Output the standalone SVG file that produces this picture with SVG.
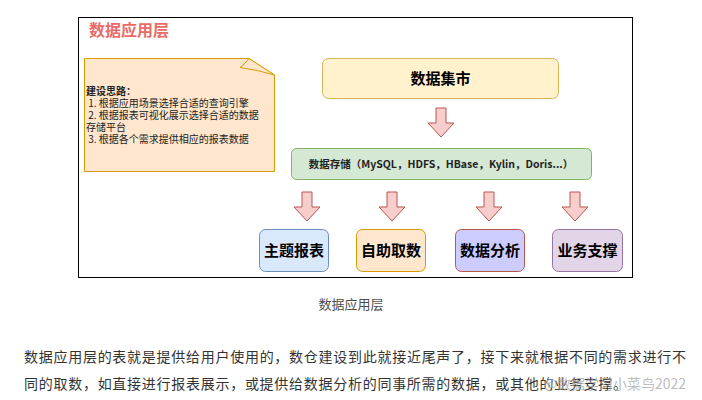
<svg xmlns="http://www.w3.org/2000/svg" width="702" height="400" viewBox="0 0 702 400">
<style>
.cjk{font-family:"Noto Sans CJK SC","Liberation Sans",sans-serif}
.lbl{font-size:15px;font-weight:bold;fill:#000;text-anchor:middle}
.note{font-size:10px;fill:#222}
.arr{fill:#F8CECC;stroke:#B85450;stroke-width:1}
</style>
<defs>
<path id="barrow" d="M-5,0 H5 V15 H13 L0,29 L-13,15 H-5 Z"/>
</defs>
<rect width="702" height="400" fill="#fff"/>
<g id="frame">
<rect x="78.5" y="17.5" width="554" height="260" fill="#fff" stroke="#000" stroke-width="1"/>
<text x="89" y="36" class="cjk" font-size="16" font-weight="bold" fill="#EA6B66">数据应用层</text>
</g>
<g id="note">
<path d="M84.5,58.5 H249 L274.5,75 V171.5 H84.5 Z" fill="#FFE6CC" stroke="#D79B00"/>
<path d="M249,58.5 Q245,64 240,67.5 Q258,70 274.5,75 Z" fill="#FFE6CC" stroke="#D79B00" stroke-linejoin="round"/>
<text class="cjk note" x="86" y="95" font-weight="bold">建设思路：</text>
<text class="cjk note" x="86" y="107" xml:space="preserve"> 1. 根据应用场景选择合适的查询引擎</text>
<text class="cjk note" x="86" y="119" xml:space="preserve"> 2. 根据报表可视化展示选择合适的数据</text>
<text class="cjk note" x="86" y="131">存储平台</text>
<text class="cjk note" x="86" y="143" xml:space="preserve"> 3. 根据各个需求提供相应的报表数据</text>
</g>
<g id="mart">
<rect x="322.5" y="58.5" width="236" height="40" rx="6" fill="#FFF2CC" stroke="#D6B656"/>
<text x="440.5" y="84" class="cjk lbl">数据集市</text>
</g>
<g id="storage">
<rect x="291.5" y="148.5" width="300" height="31" rx="5" fill="#D5E8D4" stroke="#82B366"/>
<text x="441" y="168" class="cjk" font-size="10.5" font-weight="bold" fill="#222" text-anchor="middle">数据存储（MySQL，HDFS，HBase，Kylin，Doris...）</text>
</g>
<g id="topic">
<rect x="259.5" y="229.5" width="69" height="42" rx="6" fill="#DAE8FC" stroke="#6C8EBF"/>
<text x="294" y="256" class="cjk lbl">主题报表</text>
</g>
<g id="self">
<rect x="356.5" y="229.5" width="69" height="42" rx="6" fill="#FFE6CC" stroke="#D79B00"/>
<text x="391" y="256" class="cjk lbl">自助取数</text>
</g>
<g id="analysis">
<rect x="455.5" y="229.5" width="69" height="42" rx="6" fill="#CCCCFF" stroke="#B85450"/>
<text x="490" y="256" class="cjk lbl">数据分析</text>
</g>
<g id="support">
<rect x="552.5" y="229.5" width="70" height="42" rx="6" fill="#E1D5E7" stroke="#9673A6"/>
<text x="587.5" y="256" class="cjk lbl">业务支撑</text>
</g>
<g id="connectors">
<use href="#barrow" class="arr" transform="translate(441,108)"/>
<use href="#barrow" class="arr" transform="translate(307,192)"/>
<use href="#barrow" class="arr" transform="translate(392,192)"/>
<use href="#barrow" class="arr" transform="translate(489,192)"/>
<use href="#barrow" class="arr" transform="translate(575,192)"/>
</g>
<g id="caption">
<text x="351" y="309" class="cjk" font-size="13" fill="#4d4d4d" text-anchor="middle">数据应用层</text>
</g>
<g id="paragraph">
<text x="24" y="362" class="cjk" font-size="14" fill="#333" textLength="662" lengthAdjust="spacing">数据应用层的表就是提供给用户使用的，数仓建设到此就接近尾声了，接下来就根据不同的需求进行不</text>
<text x="24" y="389" class="cjk" font-size="14" fill="#333" textLength="603" lengthAdjust="spacing">同的取数，如直接进行报表展示，或提供给数据分析的同事所需的数据，或其他的业务支撑。</text>
<text x="686" y="389" class="cjk" font-size="14" fill="#aaa" fill-opacity="0.8" text-anchor="end">@数据学习小菜鸟2022</text>
</g>
</svg>
